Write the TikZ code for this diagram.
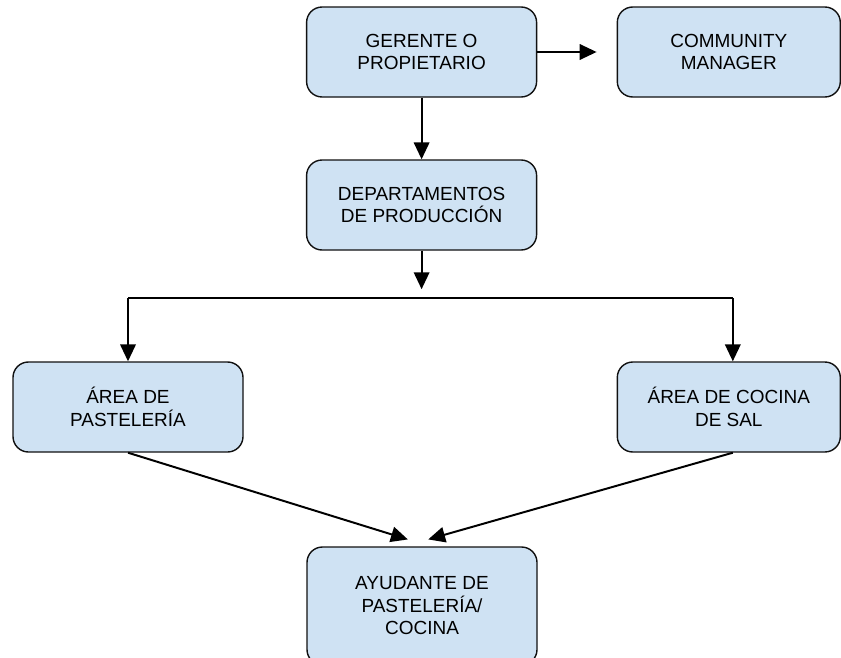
\documentclass[tikz,border=0pt]{standalone}
\usepackage{fontspec}
\setmainfont{Liberation Sans}
\usetikzlibrary{arrows.meta, positioning, calc}
\definecolor{cfill}{HTML}{CFE2F3}
\definecolor{cline}{HTML}{111111}
\tikzset{
  every picture/.style={line width=1.4pt},
  box/.style={draw=cline, fill=cfill, line width=1pt, rounded corners=11pt, align=center,
    minimum width=5.75cm, minimum height=2.25cm, font=\fontsize{13.5pt}{16pt}\selectfont},
  arrow/.style={-{Triangle[length=12pt, width=11pt]}, draw=black, line width=1.4pt},
  link/.style={draw=black, line width=1.4pt},
}

\begin{document}
\begin{tikzpicture}
  \useasboundingbox (0,0) rectangle (21.025,-16.425);
  \node[box] (ger) at (10.54,-1.3) {GERENTE O\\PROPIETARIO};
  \node[box, minimum width=5.575cm] (cm) at (18.22,-1.3) {COMMUNITY\\MANAGER};
  \node[box] (dep) at (10.54,-5.125) {DEPARTAMENTOS\\DE PRODUCCIÓN};
  \node[box] (past) at (3.2,-10.175) {ÁREA DE\\PASTELERÍA};
  \node[box, minimum width=5.575cm] (sal) at (18.22,-10.175) {ÁREA DE COCINA\\DE SAL};
  \node[box, minimum height=2.95cm] (ayu) at (10.55,-15.15) {AYUDANTE DE\\PASTELERÍA/\\COCINA};
  \coordinate (hub) at (10.54,-7.45);
  % conectores
  \draw[arrow, shorten >=0.5cm] (ger) -- (cm);
  \draw[arrow] (ger) -- (dep);
  \draw[arrow, shorten >=0.22cm] (dep) -- (hub);
  \draw[link] (past |- hub) -- ([xshift=0.1cm]sal.north |- hub);
  \draw[arrow] (past |- hub) -- (past);
  \draw[arrow] ([xshift=0.1cm]sal.north |- hub) -- ([xshift=0.1cm]sal.north);
  \draw[arrow, shorten >=0.58cm] (past.south) -- ([xshift=0.2cm]ayu.north);
  \draw[arrow, shorten >=0.63cm] ([xshift=0.1cm]sal.south) -- ([xshift=-0.45cm]ayu.north);
\end{tikzpicture}
\end{document}
